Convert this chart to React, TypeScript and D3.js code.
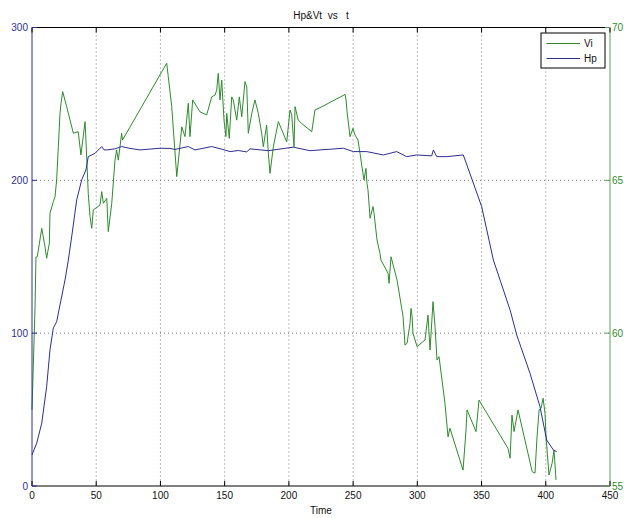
import React from 'react';
import * as d3 from 'd3';

// Hp (left axis) samples: time, value
const hpTime = [0, 3.7, 7.6, 11.4, 14, 16.6, 19.2, 21.8, 25.7, 28.3, 31.1, 34.8, 38.7, 42, 43.8, 49.1, 54.3, 56.1, 58.2, 64.6, 69.8, 76.3, 84.1, 99.7, 107.4, 111.3, 121.7, 126.9, 139.9, 147.7, 154.2, 160.6, 167.2, 169.7, 184, 203.4, 216.4, 242.4, 250.2, 260.6, 273.5, 283.9, 291.7, 299.5, 311.2, 312.5, 315.1, 322.9, 335.8, 350.1, 359.2, 372.2, 377.4, 387.7, 395.5, 400.7, 405.9, 408.5];
const hpValue = [20.3, 28.1, 41.2, 65, 89, 103.4, 107.5, 118.5, 134.8, 147.9, 164.3, 187.2, 200.3, 206.8, 215.5, 217.7, 222.1, 219.9, 219.9, 220.6, 222.1, 220.9, 219.9, 221, 220.9, 220.2, 222.1, 219.9, 222.1, 220.4, 218.8, 219.5, 218.6, 220.6, 219.4, 221.7, 219.4, 221, 218.8, 218.8, 216.6, 218.8, 215.5, 216.6, 216, 219.9, 215.5, 215.5, 216.6, 182.8, 147.9, 115.2, 98.8, 73.8, 51.9, 30.1, 23.6, 22.4];

// Vi (right axis) samples: time, value
const viTime = [0, 2.3, 3.1, 4.1, 7.6, 10.1, 11.4, 13.5, 14, 16.6, 17.9, 19.2, 20.5, 21.8, 22.6, 23.9, 27, 32.2, 36, 38.1, 41.3, 42, 43.8, 45.2, 46.5, 47.7, 52.9, 54.3, 55.5, 58.2, 59.4, 62.1, 64.6, 65.9, 67.2, 69.8, 70.5, 101, 104.9, 106.1, 108.8, 112.7, 116.6, 119.1, 121.7, 123, 125.1, 130.8, 136, 139.9, 142.5, 143.8, 145, 146.4, 147.7, 149.5, 151, 151.6, 153.6, 155.5, 156.7, 159.4, 161.4, 163.3, 165.8, 167.2, 168.4, 171.1, 173.6, 176.2, 178.8, 180.1, 182.7, 184, 185.3, 187.9, 191.8, 198.3, 200.9, 202.2, 204, 204.8, 207.3, 210, 217.8, 220.3, 225.8, 243.7, 244.5, 245.3, 247.6, 249.9, 251.5, 253.8, 255.4, 256.9, 258.5, 260, 260.8, 261.6, 263.2, 265.5, 266.3, 268.6, 270.9, 271.7, 277.2, 278, 279.5, 284.2, 288.9, 290.4, 292, 294.3, 295.1, 295.9, 296.6, 299.8, 306, 308.3, 309.9, 312.2, 313.8, 315.3, 316.9, 321.5, 323.9, 325.4, 335.6, 337.9, 338.7, 345.7, 348, 370.6, 372.2, 373.7, 375.3, 378.4, 389.4, 391.6, 393.2, 394.8, 396.3, 397.9, 399.4, 400.2, 402.5, 404.9, 406.4, 408];
const viValue = [57.49, 60.76, 62.49, 62.5, 63.43, 62.83, 62.45, 62.94, 63.92, 64.3, 64.46, 65.01, 66.1, 67.19, 67.52, 67.9, 67.41, 66.54, 66.59, 65.83, 66.92, 66.32, 64.57, 63.81, 63.43, 64.03, 64.19, 64.63, 64.25, 64.41, 63.32, 64.25, 65.66, 65.99, 65.66, 66.54, 66.32, 68.55, 68.83, 68.39, 67.41, 65.12, 66.75, 66.43, 67.52, 66.43, 67.63, 67.24, 67.14, 67.73, 67.79, 67.95, 68.5, 67.63, 68.28, 66.97, 66.43, 67.19, 66.37, 67.73, 67.63, 66.97, 67.73, 67.08, 68.23, 68.06, 66.54, 67.19, 67.63, 67.19, 66.54, 66.1, 66.81, 65.88, 65.23, 66.1, 66.92, 66.26, 67.3, 67.14, 66.1, 67.41, 66.97, 66.86, 66.59, 67.3, 67.41, 67.81, 67.63, 67.24, 66.43, 66.7, 66.48, 66.32, 65.88, 65.44, 65.01, 65.39, 64.9, 64.68, 63.76, 64.14, 63.92, 63.05, 62.61, 62.39, 61.96, 61.63, 62.5, 61.74, 60.54, 59.61, 59.67, 60.32, 60.81, 60.54, 60, 59.56, 59.78, 60.59, 59.45, 61.03, 60.21, 59.12, 59.23, 57.71, 56.61, 56.89, 55.52, 56.83, 57.49, 56.78, 57.81, 56.23, 55.91, 57.32, 56.78, 57.49, 55.47, 55.42, 56.61, 57.49, 57.54, 57.87, 57.38, 56.61, 55.36, 55.74, 56.18, 55.2];

const xTicks = [0, 50, 100, 150, 200, 250, 300, 350, 400, 450];
const leftTicks = [0, 100, 200, 300];
const rightTicks = [55, 60, 65, 70];

const W = 624;
const H = 518;
const margin = { top: 27.5, right: 14, bottom: 32, left: 32 };
const BLUE = '#2e2e8e';
const GREEN = '#2f8a2f';
const GREEN_AXIS = '#5e9e5e';
const FONT = 'Arial, "Liberation Sans", sans-serif';

export default function App() {
  const x = d3.scaleLinear().domain([0, 450]).range([margin.left, W - margin.right]);
  const yL = d3.scaleLinear().domain([0, 300]).range([H - margin.bottom, margin.top]);
  const yR = d3.scaleLinear().domain([55, 70]).range([H - margin.bottom, margin.top]);

  const hp = hpTime.map((t, i) => [t, hpValue[i]] as [number, number]);
  const vi = viTime.map((t, i) => [t, viValue[i]] as [number, number]);
  const hpLine = d3.line<[number, number]>().x(d => x(d[0])).y(d => yL(d[1]));
  const viLine = d3.line<[number, number]>().x(d => x(d[0])).y(d => yR(d[1]));

  const x0 = x(0), x1 = x(450), yb = yL(0), yt = yL(300);
  const tk = 5;

  return (
    <svg width={W} height={H} style={{ position: 'absolute', left: 0, top: 0, background: '#fff' }}
      fontFamily={FONT} fontSize={10}>
      <rect x={0} y={0} width={W} height={H} fill="#fff" />

      {/* grid */}
      <g stroke="#333" strokeWidth={0.8} strokeDasharray="1,3" opacity={0.8}>
        {xTicks.slice(1, -1).map(t => (
          <line key={'gx' + t} x1={x(t)} x2={x(t)} y1={yt} y2={yb} />
        ))}
        {leftTicks.slice(1, -1).map(t => (
          <line key={'gy' + t} x1={x0} x2={x1} y1={yL(t)} y2={yL(t)} />
        ))}
      </g>

      {/* data */}
      <path d={viLine(vi) || ''} fill="none" stroke={GREEN} strokeWidth={1} />
      <path d={hpLine(hp) || ''} fill="none" stroke={BLUE} strokeWidth={1} />

      {/* frame */}
      <line x1={x0} x2={x1} y1={yt} y2={yt} stroke="#000" />
      <line x1={x0} x2={x1} y1={yb} y2={yb} stroke="#000" />
      <line x1={x0} x2={x0} y1={yt} y2={yb} stroke={BLUE} />
      <line x1={x1} x2={x1} y1={yt} y2={yb} stroke={GREEN_AXIS} />

      {/* x ticks */}
      {xTicks.map(t => (
        <g key={'xt' + t}>
          <line x1={x(t)} x2={x(t)} y1={yb} y2={yb - tk} stroke="#000" />
          <line x1={x(t)} x2={x(t)} y1={yt} y2={yt + tk} stroke="#000" />
          <text x={x(t)} y={yb + 13} textAnchor="middle" fill="#111">{t}</text>
        </g>
      ))}

      {/* left ticks */}
      {leftTicks.map(t => (
        <g key={'lt' + t}>
          <line x1={x0} x2={x0 + tk} y1={yL(t)} y2={yL(t)} stroke={BLUE} />
          <text x={x0 - 4} y={yL(t) + 3.5} textAnchor="end" fill={BLUE}>{t}</text>
        </g>
      ))}

      {/* right ticks */}
      {rightTicks.map(t => (
        <g key={'rt' + t}>
          <line x1={x1} x2={x1 - tk} y1={yR(t)} y2={yR(t)} stroke={GREEN_AXIS} />
          <text x={x1 + 2} y={yR(t) + 3.5} textAnchor="start" fill={GREEN}>{t}</text>
        </g>
      ))}

      {/* title and label */}
      <text x={(x0 + x1) / 2} y={19} textAnchor="middle" fill="#111" style={{ whiteSpace: 'pre' }}>
        {'Hp&Vt  vs   t'}
      </text>
      <text x={(x0 + x1) / 2} y={514} textAnchor="middle" fill="#111">Time</text>

      {/* legend */}
      <g>
        <rect x={541} y={33} width={64} height={35} fill="#fff" stroke="#000" />
        <line x1={546.5} x2={580} y1={43.5} y2={43.5} stroke={GREEN} />
        <text x={584} y={47} fill="#111">Vi</text>
        <line x1={546.5} x2={580} y1={58.5} y2={58.5} stroke={BLUE} />
        <text x={584} y={62} fill="#111">Hp</text>
      </g>
    </svg>
  );
}
